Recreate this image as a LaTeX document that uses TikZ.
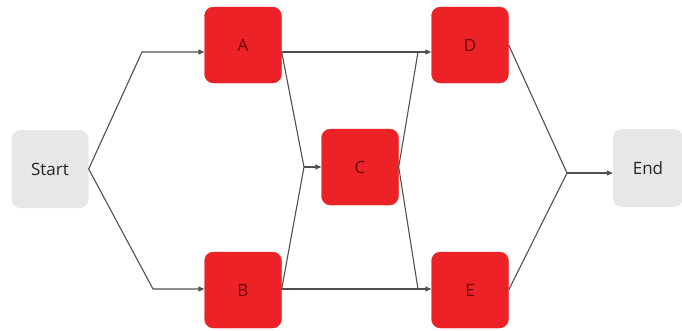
\documentclass[tikz,border=0pt]{standalone}
\usepackage{fontspec}
\setmainfont{Open Sans}
\usetikzlibrary{arrows.meta}
\definecolor{taskred}{RGB}{236,34,38}
\definecolor{taskedge}{RGB}{228,40,40}
\definecolor{tasktext}{RGB}{110,8,12}
\definecolor{termfill}{RGB}{233,230,231}
\definecolor{termtext}{RGB}{35,35,35}
\definecolor{wire}{RGB}{80,80,80}
\tikzset{
  task/.style={draw=taskedge, fill=taskred, rounded corners=9pt, minimum width=77pt, minimum height=76pt,
    inner sep=0pt, text=tasktext, font=\fontsize{17}{19}\selectfont},
  terminal/.style={fill=termfill, rounded corners=9pt, minimum width=77pt, minimum height=78pt,
    inner sep=0pt, text=termtext, font=\fontsize{17}{19}\selectfont},
  link/.style={draw=wire, line width=1.1pt},
  arr/.style={link, -{Triangle[length=6pt,width=5pt]}}
}
\begin{document}
\begin{tikzpicture}[x=1pt, y=-1pt]
  \useasboundingbox (0,0) rectangle (682,330);
  % terminals
  \node[terminal, minimum width=77pt] (start) at (50,169) {Start};
  \node[terminal, minimum width=70pt] (end) at (648,168) {End};
  % tasks
  \node[task] (A) at (243,45) {A};
  \node[task] (B) at (243,290) {B};
  \node[task] (C) at (360,167) {C};
  \node[task] (D) at (470,45) {D};
  \node[task] (E) at (470,290) {E};
  % junction points
  \coordinate (sA) at (142,52);
  \coordinate (sB) at (153,289);
  \coordinate (jC) at (304,167);
  \coordinate (jD) at (418,52);
  \coordinate (jE) at (418,289);
  \coordinate (jEnd) at (567,173);
  % start fan-out
  \draw[arr] (start.east) -- (sA) -- (A.west |- sA);
  \draw[arr] (start.east) -- (sB) -- (B.west |- sB);
  % A and B into C
  \draw[link] (A.east |- sA) -- (jC);
  \draw[link] (B.east |- sB) -- (jC);
  \draw[arr] (jC) -- (C.west);
  % A to D, B to E
  \draw[arr] (A.east |- sA) -- (D.west |- sA);
  \draw[arr] (B.east |- sB) -- (E.west |- sB);
  % C out to D and E
  \draw[link] (C.east) -- (jD);
  \draw[link] (C.east) -- (jE);
  % D and E into End
  \draw[link] (D.east) -- (jEnd);
  \draw[link] (E.east) -- (jEnd);
  \draw[arr] (jEnd) -- (end.west |- jEnd);
\end{tikzpicture}
\end{document}
